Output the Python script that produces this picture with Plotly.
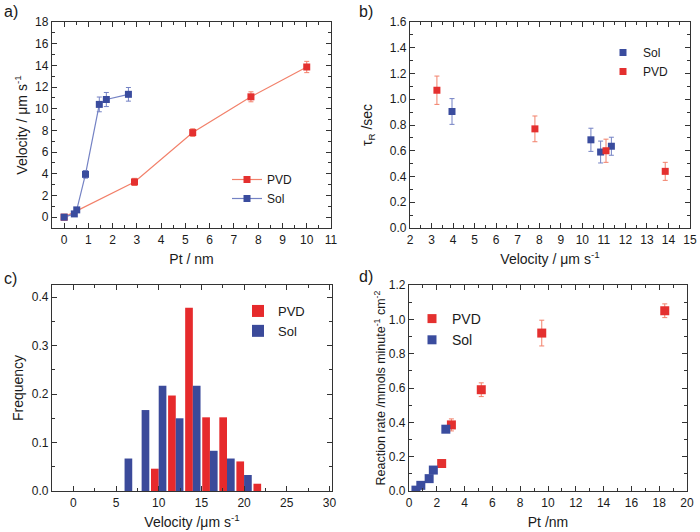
import plotly.graph_objects as go

# ---- Panel a: Velocity vs Pt thickness ----
a_pvd_x = [0, 2.9, 5.3, 7.7, 10.0]
a_pvd_y = [0, 3.25, 7.8, 11.1, 13.85]
a_pvd_err = [0, 0.33, 0.35, 0.46, 0.52]
a_sol_x = [0, 0.42, 0.52, 0.88, 1.45, 1.74, 2.65]
a_sol_y = [0, 0.3, 0.67, 3.95, 10.4, 10.85, 11.33]
a_sol_err = [0.05, 0.15, 0.2, 0.35, 0.68, 0.65, 0.63]

# ---- Panel b: tau_R vs Velocity ----
b_sol_x = [3.95, 10.4, 10.85, 11.35]
b_sol_y = [0.905, 0.685, 0.59, 0.635]
b_sol_err = [0.1, 0.09, 0.085, 0.07]
b_pvd_x = [3.25, 7.8, 11.1, 13.85]
b_pvd_y = [1.07, 0.77, 0.6, 0.44]
b_pvd_err = [0.11, 0.1, 0.09, 0.07]

# ---- Panel c: Velocity histogram ----
c_bins = [6, 8, 10, 12, 14, 16, 18, 20, 22]
c_pvd = [0, 0, 0.046, 0.197, 0.378, 0.152, 0.152, 0.061, 0.015]
c_sol = [0.067, 0.167, 0.217, 0.15, 0.217, 0.083, 0.067, 0.033, 0]

# ---- Panel d: Reaction rate vs Pt ----
d_pvd_x = [2.35, 3.05, 5.2, 9.55, 18.4]
d_pvd_y = [0.16, 0.385, 0.59, 0.92, 1.05]
d_pvd_err = [0.02, 0.035, 0.04, 0.075, 0.04]
d_sol_x = [0.5, 0.85, 1.45, 1.75, 2.65]
d_sol_y = [0.005, 0.033, 0.072, 0.122, 0.36]
d_sol_err = [0.005, 0.008, 0.008, 0.008, 0.015]

RED = "#e4302f"
RED_L = "#f2806a"
BLUE = "#3a4c9e"
BLUE_L = "#7482c4"
RED_BAR = "#e62a2c"
BLUE_BAR = "#3b4a9a"

W, H = 700, 532
FONT = "Liberation Sans, Arial, sans-serif"
TXT = "#1a1a1a"
LINE = "#333333"

def px_x(p):
    return p / W

def px_y(p):
    return 1 - p / H

fig = go.Figure()

ms = 7
# Panel a
fig.add_trace(go.Scatter(x=a_pvd_x, y=a_pvd_y, mode="lines+markers", name="PVD",
                         line=dict(color=RED_L, width=1.2),
                         marker=dict(symbol="square", size=ms, color=RED),
                         error_y=dict(type="data", array=a_pvd_err, color=RED_L, thickness=1, width=2.5),
                         xaxis="x", yaxis="y", legend="legend"))
fig.add_trace(go.Scatter(x=a_sol_x, y=a_sol_y, mode="lines+markers", name="Sol",
                         line=dict(color=BLUE_L, width=1.2),
                         marker=dict(symbol="square", size=ms, color=BLUE),
                         error_y=dict(type="data", array=a_sol_err, color=BLUE_L, thickness=1, width=2.5),
                         xaxis="x", yaxis="y", legend="legend"))
# Panel b
fig.add_trace(go.Scatter(x=b_sol_x, y=b_sol_y, mode="markers", name="Sol",
                         marker=dict(symbol="square", size=ms, color=BLUE),
                         error_y=dict(type="data", array=b_sol_err, color=BLUE_L, thickness=1, width=2.5),
                         xaxis="x2", yaxis="y2", legend="legend2"))
fig.add_trace(go.Scatter(x=b_pvd_x, y=b_pvd_y, mode="markers", name="PVD",
                         marker=dict(symbol="square", size=ms, color=RED),
                         error_y=dict(type="data", array=b_pvd_err, color=RED_L, thickness=1, width=2.5),
                         xaxis="x2", yaxis="y2", legend="legend2"))
# Panel c
fig.add_trace(go.Bar(x=c_bins, y=c_pvd, name="PVD", marker=dict(color=RED_BAR, line=dict(width=0)),
                     xaxis="x3", yaxis="y3", legend="legend3"))
fig.add_trace(go.Bar(x=c_bins, y=c_sol, name="Sol", marker=dict(color=BLUE_BAR, line=dict(width=0)),
                     xaxis="x3", yaxis="y3", legend="legend3"))
# Panel d
fig.add_trace(go.Scatter(x=d_pvd_x, y=d_pvd_y, mode="markers", name="PVD",
                         marker=dict(symbol="square", size=9, color=RED),
                         error_y=dict(type="data", array=d_pvd_err, color=RED_L, thickness=1, width=2.5),
                         xaxis="x4", yaxis="y4", legend="legend4"))
fig.add_trace(go.Scatter(x=d_sol_x, y=d_sol_y, mode="markers", name="Sol",
                         marker=dict(symbol="square", size=9, color=BLUE),
                         error_y=dict(type="data", array=d_sol_err, color=BLUE_L, thickness=1, width=2.5),
                         xaxis="x4", yaxis="y4", legend="legend4"))

def ax(domain, rng, dtick, minor, title, anchor, tick0=0, fmt=None, standoff=6, tsize=14):
    d = dict(domain=domain, range=rng, dtick=dtick, tick0=tick0, anchor=anchor,
             automargin=False,
             showline=True, linecolor=LINE, linewidth=1.3, mirror=False,
             ticks="inside", ticklen=5, tickwidth=1, tickcolor=LINE,
             minor=dict(dtick=minor, tick0=tick0, ticks="inside", ticklen=3, tickwidth=1, tickcolor=LINE, showgrid=False),
             showgrid=False, zeroline=False,
             tickfont=dict(family=FONT, size=12, color=TXT),
             title=dict(text=title, font=dict(family=FONT, size=tsize, color=TXT), standoff=standoff))
    if fmt:
        d["tickformat"] = fmt
    return d

def mirror_ax(base, side, anchor, rng, dtick, minor, tick0=0):
    return dict(overlaying=base, side=side, anchor=anchor, range=rng, dtick=dtick, tick0=tick0,
                automargin=False, showticklabels=False,
                showline=True, linecolor=LINE, linewidth=1.3,
                ticks="inside", ticklen=5, tickwidth=1, tickcolor=LINE,
                minor=dict(dtick=minor, tick0=tick0, ticks="inside", ticklen=3, tickwidth=1, tickcolor=LINE, showgrid=False),
                showgrid=False, zeroline=False)

xa = [px_x(52), px_x(331)]
xb = [px_x(410), px_x(690)]
xc = [px_x(52), px_x(332)]
xd = [px_x(409), px_x(687)]
ytop = [px_y(228), px_y(22)]
ybot = [px_y(491), px_y(285)]

vel_title = "Velocity / μm s<sup>-1</sup>"

# axis specs: (range, dtick, minor)
XA = ([-0.5, 11], 1, 0.5)
YA = ([-1, 18], 2, 1)
XB = ([2, 15], 1, 0.5)
YB = ([0, 1.6], 0.2, 0.1)
XC = ([-2.5, 30.3], 5, 2.5)
YC = ([0, 0.425], 0.1, 0.05)
XD = ([0, 20], 2, 1)
YD = ([0, 1.2], 0.2, 0.1)

fig.update_layout(
    width=W, height=H,
    margin=dict(l=0, r=0, t=0, b=0, autoexpand=False),
    paper_bgcolor="white", plot_bgcolor="white",
    font=dict(family=FONT, size=12, color=TXT),
    barmode="group", bargap=0.1, bargroupgap=0,
    xaxis=ax(xa, *XA, "Pt / nm", "y", standoff=8),
    yaxis=ax(ytop, *YA, vel_title, "x", standoff=4),
    xaxis2=ax(xb, *XB, vel_title, "y2", standoff=8),
    yaxis2=ax(ytop, *YB, "τ<sub>R</sub> /sec", "x2", fmt=".1f", standoff=13),
    xaxis3=ax(xc, *XC, "Velocity /μm s<sup>-1</sup>", "y3", standoff=8),
    yaxis3=ax(ybot, *YC, "Frequency", "x3", fmt=".1f", standoff=4),
    xaxis4=ax(xd, *XD, "Pt /nm", "y4", standoff=8),
    yaxis4=ax(ybot, *YD, "Reaction rate /mmols minute<sup>-1</sup> cm<sup>-2</sup>", "x4",
              fmt=".1f", standoff=0, tsize=12.5),
    # mirrored frame axes (top / right)
    xaxis5=mirror_ax("x", "top", "y", *XA),
    yaxis5=mirror_ax("y", "right", "x", *YA),
    xaxis6=mirror_ax("x2", "top", "y2", *XB),
    yaxis6=mirror_ax("y2", "right", "x2", *YB),
    xaxis7=mirror_ax("x3", "top", "y3", *XC),
    yaxis7=mirror_ax("y3", "right", "x3", *YC),
    xaxis8=mirror_ax("x4", "top", "y4", *XD),
    yaxis8=mirror_ax("y4", "right", "x4", *YD),
    legend=dict(x=px_x(227), y=px_y(165), xanchor="left", yanchor="top", bgcolor="rgba(0,0,0,0)",
                font=dict(family=FONT, size=12), tracegroupgap=0, itemwidth=30),
    legend2=dict(x=px_x(603), y=px_y(38), xanchor="left", yanchor="top", bgcolor="rgba(0,0,0,0)",
                 font=dict(family=FONT, size=12), itemwidth=30),
    legend3=dict(x=px_x(238), y=px_y(296), xanchor="left", yanchor="top", bgcolor="rgba(0,0,0,0)",
                 font=dict(family=FONT, size=13), itemwidth=30),
    legend4=dict(x=px_x(412), y=px_y(303), xanchor="left", yanchor="top", bgcolor="rgba(0,0,0,0)",
                 font=dict(family=FONT, size=14), itemwidth=30),
    showlegend=True,
)

# invisible helper traces so the mirror axes are instantiated (no data drawn)
for i in range(4):
    fig.add_trace(go.Scatter(x=[None], y=[None], mode="markers", showlegend=False, hoverinfo="skip",
                             xaxis=f"x{5 + i}", yaxis=f"y{5 + i}"))

for txt, x, y in [("a)", 2, 12), ("b)", 357, 12), ("c)", 2, 278), ("d)", 357, 276)]:
    fig.add_annotation(text=txt, x=px_x(x), y=px_y(y), xref="paper", yref="paper",
                       xanchor="left", yanchor="middle", showarrow=False,
                       font=dict(family=FONT, size=16, color=TXT))

fig.write_html("out.html", config={"displayModeBar": False},
               post_script="document.body.style.margin='0';")
